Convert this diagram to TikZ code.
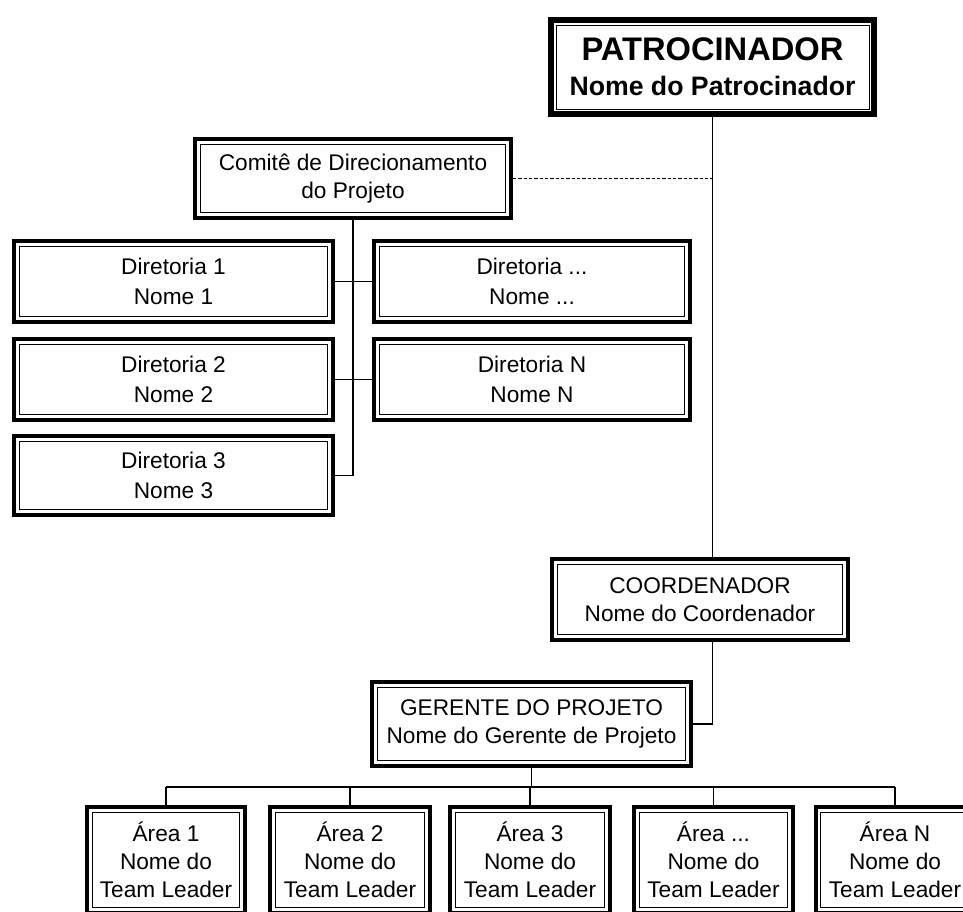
\documentclass[tikz,border=0pt]{standalone}
\usepackage{fontspec}
\setmainfont{Liberation Sans}
\usetikzlibrary{calc}
\begin{document}
\begin{tikzpicture}[x=0.75pt,y=-0.75pt,
  % framed box: heavy outer rule with a thin inner rule
  frame/.style={draw, line width=3.2pt, inner sep=0pt, align=center,
    font=\fontsize{17}{21}\selectfont,
    path picture={\draw[line width=0.75pt]
      ($(path picture bounding box.north west)+(5,5)$) rectangle
      ($(path picture bounding box.south east)+(-5,-5)$);}},
  sz/.style 2 args={minimum width=#1*0.75pt-3.2pt, minimum height=#2*0.75pt-3.2pt},
  topframe/.style={frame, line width=4.5pt, font=\bfseries\fontsize{24.5}{26.5}\selectfont},
  dirfont/.style={font=\fontsize{17}{22.5}\selectfont},
  conn/.style={draw, line width=1pt},
]
\useasboundingbox (0,0) rectangle (963,911);
\clip (0,0) rectangle (963,911);

% top of the chart
\node[topframe, minimum width=329*0.75pt-4.5pt, minimum height=100*0.75pt-4.5pt] (pat) at (712.5,67)
  {PATROCINADOR\\{\fontsize{20}{26.5}\selectfont Nome do Patrocinador}};
\node[frame, sz={320}{83}] (com) at (353,178.5) {Comitê de Direcionamento\\do Projeto};

% steering committee directors
\node[frame, dirfont, sz={323}{85}] (d1) at (173.5,281.5) {Diretoria 1\\Nome 1};
\node[frame, dirfont, sz={323}{85}] (d2) at (173.5,379.5) {Diretoria 2\\Nome 2};
\node[frame, dirfont, sz={323}{83}] (d3) at (173.5,475.5) {Diretoria 3\\Nome 3};
\node[frame, dirfont, sz={320}{85}] (dr1) at (532,281.5) {Diretoria ...\\Nome ...};
\node[frame, dirfont, sz={320}{85}] (dr2) at (532,379.5) {Diretoria N\\Nome N};

% coordination and management
\node[frame, sz={300}{85}] (coord) at (700,599.5) {COORDENADOR\\Nome do Coordenador};
\node[frame, sz={323}{88}] (ger) at (531.5,724) {GERENTE DO PROJETO\\Nome do Gerente de Projeto};

% team areas
\node[frame, sz={162}{110}] (a1) at (166,860) {Área 1\\Nome do\\Team Leader};
\node[frame, sz={164}{110}] (a2) at (350,860) {Área 2\\Nome do\\Team Leader};
\node[frame, sz={164}{110}] (a3) at (530,860) {Área 3\\Nome do\\Team Leader};
\node[frame, sz={163}{110}] (a4) at (713.5,860) {Área ...\\Nome do\\Team Leader};
\node[frame, sz={163}{110}] (a5) at (895,860) {Área N\\Nome do\\Team Leader};

% connectors
\coordinate (bus) at (531,787);
\draw[conn] (pat.south) -- (pat.south |- coord.north);
\draw[conn] (pat.south |- coord.south) |- (ger.east);
\draw[conn, dash pattern=on 2.5pt off 1.5pt] (com.east) -- (com.east -| pat.south);
\draw[conn] (com.south) -- (com.south |- d3.east) -- (d3.east);
\draw[conn] (d1.east) -- (dr1.west);
\draw[conn] (d2.east) -- (dr2.west);
\draw[conn] (ger.south) -- (ger.south |- bus);
\draw[conn] (a1.north |- bus) -- (a5.north |- bus);
\foreach \a in {a1,a2,a3,a4,a5}
  \draw[conn] (\a.north) -- (\a.north |- bus);
\end{tikzpicture}
\end{document}
